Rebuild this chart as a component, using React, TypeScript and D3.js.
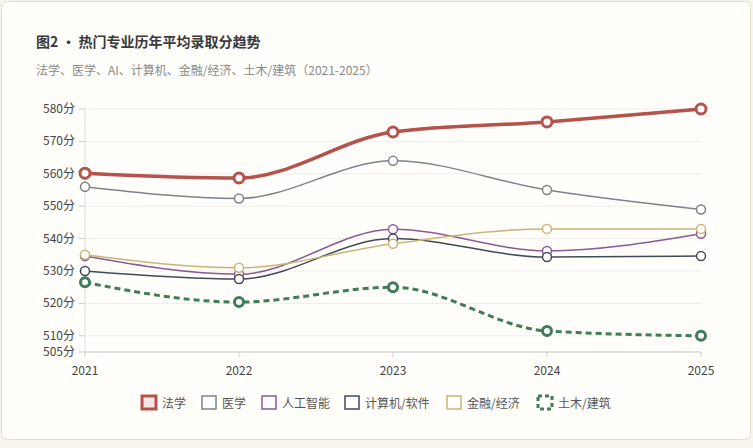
import React from "react";
import * as d3 from "d3";

const years = [2021, 2022, 2023, 2024, 2025];
const yTicks = [505, 510, 520, 530, 540, 550, 560, 570, 580];
const faxue = [560.2, 558.7, 572.9, 576, 580];
const yixue = [556, 552.4, 564, 555, 549];
const ai = [534.6, 529, 542.9, 536.2, 541.5];
const jisuanji = [530, 527.5, 540, 534.3, 534.6];
const jinrong = [535, 531, 538.4, 543, 543];
const tumu = [526.5, 520.4, 525, 511.5, 510];

const series = [
  { name: "法学", values: faxue, color: "#b5524a", width: 3.5, dash: "", r: 5 },
  { name: "医学", values: yixue, color: "#7d8389", width: 1.5, dash: "", r: 4.5 },
  { name: "人工智能", values: ai, color: "#8a5a96", width: 1.5, dash: "", r: 4.5 },
  { name: "计算机/软件", values: jisuanji, color: "#414a5a", width: 1.5, dash: "", r: 4.5 },
  { name: "金融/经济", values: jinrong, color: "#cdb474", width: 1.5, dash: "", r: 4.5 },
  { name: "土木/建筑", values: tumu, color: "#3f7c57", width: 3, dash: "6,4", r: 4.5 },
];

const font = "'Noto Sans CJK SC', 'Noto Sans', sans-serif";

export default function App() {
  const x = d3.scaleLinear().domain([2021, 2025]).range([85, 701]);
  const y = d3.scaleLinear().domain([505, 580]).range([352, 109]);
  const line = d3
    .line<number>()
    .x((_, i) => x(years[i]))
    .y((d) => y(d))
    .curve(d3.curveMonotoneX);
  const legendX = [142, 202, 262, 345, 447, 538];
  return (
    <svg width={753} height={448} style={{ position: "absolute", left: 0, top: 0 }} fontFamily={font}>
      <rect x={0} y={0} width={753} height={448} fill="#f7f4ee" />
      <rect x={1.5} y={1.5} width={749} height={438} rx={6} fill="#fffefb" stroke="#e3ddd0" />
      <text x={36} y={47} fontSize={14} fontWeight={700} fill="#3a3a3a">图2 · 热门专业历年平均录取分趋势</text>
      <text x={36} y={75} fontSize={12} fill="#8a8a8a">法学、医学、AI、计算机、金融/经济、土木/建筑（2021-2025）</text>
      {yTicks.map((t) => (
        <g key={t}>
          <line x1={85} x2={701} y1={y(t)} y2={y(t)} stroke="#f0ede8" />
          <line x1={79} x2={85} y1={y(t)} y2={y(t)} stroke="#ccc" />
          <text x={75} y={y(t) + 4} fontSize={12} textAnchor="end" fill="#444">{t}分</text>
        </g>
      ))}
      <line x1={85} x2={85} y1={109} y2={352} stroke="#ddd" />
      <line x1={85} x2={701} y1={352} y2={352} stroke="#ccc" />
      {years.map((yr) => (
        <g key={yr}>
          <line x1={x(yr)} x2={x(yr)} y1={352} y2={357} stroke="#ccc" />
          <text x={x(yr)} y={375} fontSize={12} textAnchor="middle" fill="#444">{yr}</text>
        </g>
      ))}
      {series.map((s) => (
        <g key={s.name}>
          <path d={line(s.values) || ""} fill="none" stroke={s.color} strokeWidth={s.width} strokeDasharray={s.dash} />
          {s.values.map((v, i) => (
            <circle key={i} cx={x(years[i])} cy={y(v)} r={s.r} fill="#fff" stroke={s.color} strokeWidth={s.width >= 3 ? 3 : 1.5} />
          ))}
        </g>
      ))}
      {series.map((s, i) => (
        <g key={s.name} transform={`translate(${legendX[i]},403)`}>
          <rect x={0} y={-7} width={14} height={13} fill={s.name === "法学" ? "#f6e6e4" : "#fff"} stroke={s.color} strokeWidth={s.width >= 3 ? 3 : 1.5} strokeDasharray={s.dash ? "4,3" : ""} />
          <text x={20} y={5} fontSize={12} fill="#555">{s.name}</text>
        </g>
      ))}
    </svg>
  );
}
